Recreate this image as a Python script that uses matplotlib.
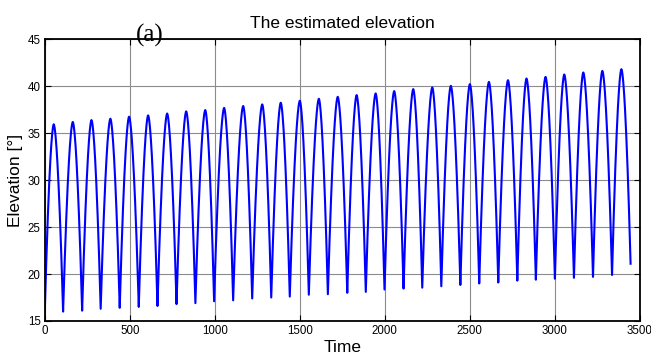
import numpy as np
import matplotlib
matplotlib.use("Agg")
import matplotlib.pyplot as plt

# Extrema
start_point = (0, 15.8)
end_point = (3445, 21.1)
peak_times = [53, 165, 275, 386, 496, 608, 720, 832, 944, 1055, 1167, 1279, 1388, 1500, 1612,
              1723, 1834, 1946, 2055, 2167, 2279, 2388, 2500, 2612, 2724, 2833, 2945, 3055, 3167, 3279, 3391]
peak_values = [35.95, 36.2, 36.4, 36.55, 36.76, 36.9, 37.1, 37.33, 37.47, 37.7, 37.9, 38.07, 38.25, 38.46, 38.67,
               38.88, 39.06, 39.24, 39.49, 39.7, 39.88, 40.05, 40.23, 40.47, 40.65, 40.83, 41.0, 41.26, 41.47, 41.64, 41.82]
trough_times = [108, 220, 329, 441, 553, 663, 775, 886, 996, 1108, 1220, 1332, 1441, 1553, 1665,
                1779, 1888, 1998, 2110, 2220, 2332, 2444, 2555, 2667, 2779, 2888, 3000, 3112, 3224, 3336]
trough_values = [16.0, 16.1, 16.3, 16.4, 16.5, 16.6, 16.8, 16.9, 17.1, 17.2, 17.4, 17.5, 17.6, 17.8, 17.85,
                 18.0, 18.1, 18.35, 18.45, 18.55, 18.7, 18.84, 19.0, 19.1, 19.3, 19.4, 19.5, 19.6, 19.7, 19.9]

x_ticks = [0, 500, 1000, 1500, 2000, 2500, 3000, 3500]
y_ticks = [15, 20, 25, 30, 35, 40, 45]

# Ordered extrema: low, high, low, high, ...
ext_t = [start_point[0]]
ext_v = [start_point[1]]
for i in range(len(peak_times)):
    ext_t.append(peak_times[i]); ext_v.append(peak_values[i])
    if i < len(trough_times):
        ext_t.append(trough_times[i]); ext_v.append(trough_values[i])
ext_t.append(end_point[0]); ext_v.append(end_point[1])

# Path between extrema: rounded crests, sharp valleys
P = 1.7
tt, vv = [], []
for k in range(len(ext_t) - 1):
    t0, t1 = ext_t[k], ext_t[k + 1]
    v0, v1 = ext_v[k], ext_v[k + 1]
    s = np.linspace(0, 1, 40, endpoint=False)
    if v1 > v0:  # rising to crest, d = distance from crest
        d = 1 - s
        seg = v0 + (v1 - v0) * (1 - d ** P)
    else:        # falling from crest
        d = s
        seg = v1 + (v0 - v1) * (1 - d ** P)
    tt.extend(t0 + (t1 - t0) * s)
    vv.extend(seg)
tt.append(ext_t[-1]); vv.append(ext_v[-1])

fig = plt.figure(figsize=(6.51, 3.58), dpi=100)
ax = fig.add_axes([0.0687, 0.1034, 0.9143, 0.7866])
ax.plot(tt, vv, color="#0000FF", lw=1.5)

ax.set_xlim(0, 3500)
ax.set_ylim(15, 45)
ax.set_xticks(x_ticks)
ax.set_yticks(y_ticks)
ax.grid(True, color="#8c8c8c", lw=0.8)
ax.set_axisbelow(True)
for sp in ax.spines.values():
    sp.set_linewidth(1.3)
ax.tick_params(direction="in", length=4, width=0.8, top=True, right=True,
               labelsize=8.3, pad=3)
for lbl in ax.get_xticklabels() + ax.get_yticklabels():
    lbl.set_family("Liberation Sans")

ax.set_title("The estimated elevation", fontsize=12.5, family="Liberation Sans", pad=8)
ax.set_xlabel("Time", fontsize=12.5, family="Liberation Sans", labelpad=2)
ax.set_ylabel("Elevation [°]", fontsize=12.5, family="Liberation Sans", labelpad=3)
fig.text(0.2304, 0.885, "(a)", fontsize=18, family="Liberation Serif",
         ha="center", va="baseline")

fig.savefig("out.png", dpi=100)
